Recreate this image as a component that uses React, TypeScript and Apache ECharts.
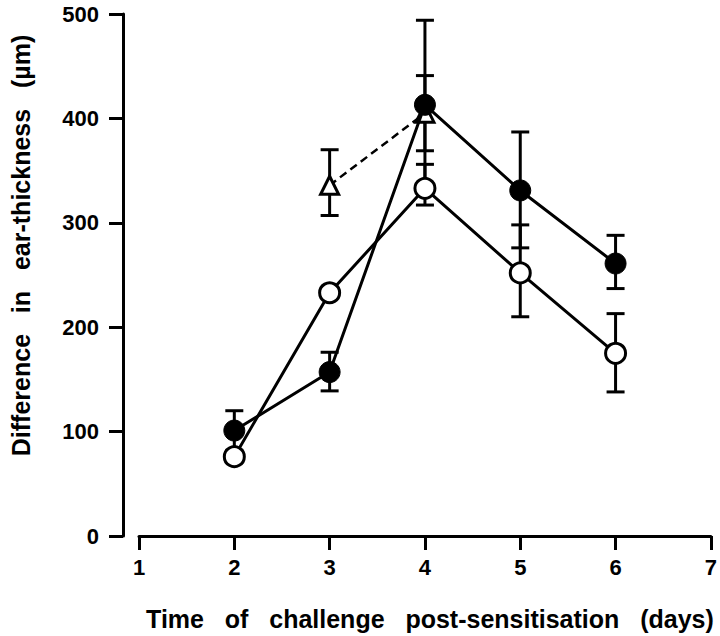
import React, { useEffect, useRef } from "react";
import * as echarts from "echarts";

const days = [2, 3, 4, 5, 6];
const filledMean = [101, 157, 413, 331, 261];
const filledHigh = [120, 176, 494, 387, 288];
const filledLow = [82, 139, 332, 276, 237];

const openMean = [76, 233, 333, 252, 175];
const openHigh = [76, 233, 356, 298, 213];
const openLow = [76, 233, 317, 210, 138];

const triDays = [3, 4];
const triMean = [336, 405];
const triHigh = [370, 441];
const triLow = [307, 369];

const xTicks = [1, 7];
const yTicks = [0, 500];

const FONT = "Liberation Sans, Arial, Helvetica, sans-serif";

function errData(xs: number[], lo: number[], hi: number[]) {
  return xs.map((x, i) => [x, lo[i], hi[i]]);
}

function errRender(params: any, api: any) {
  const x = api.value(0);
  const lo = api.value(1);
  const hi = api.value(2);
  if (hi === lo) return { type: "group", children: [] };
  const pHi = api.coord([x, hi]);
  const pLo = api.coord([x, lo]);
  const w = 9;
  const st = { stroke: "#000", lineWidth: 3 };
  return {
    type: "group",
    children: [
      { type: "line", shape: { x1: pHi[0], y1: pHi[1], x2: pLo[0], y2: pLo[1] }, style: st },
      { type: "line", shape: { x1: pHi[0] - w, y1: pHi[1], x2: pHi[0] + w, y2: pHi[1] }, style: st },
      { type: "line", shape: { x1: pLo[0] - w, y1: pLo[1], x2: pLo[0] + w, y2: pLo[1] }, style: st },
    ],
  };
}

export default function App() {
  const ref = useRef<HTMLDivElement>(null);
  useEffect(() => {
    if (!ref.current) return;
    document.body.style.margin = "0";
    document.body.style.overflow = "hidden";
    const chart = echarts.init(ref.current, undefined, { renderer: "svg" });
    chart.setOption({
      animation: false,
      backgroundColor: "#fff",
      grid: { left: 138, right: 8, top: 14, bottom: 99 },
      xAxis: {
        type: "value",
        min: xTicks[0],
        max: xTicks[1],
        interval: 1,
        name: "Time   of   challenge   post-sensitisation   (days)",
        nameLocation: "middle",
        nameGap: 70,
        nameTextStyle: {
          fontFamily: FONT,
          fontWeight: "bold",
          fontSize: 25,
          color: "#000",
          padding: [0, 0, 0, 10],
        },
        axisLine: { onZero: false, lineStyle: { color: "#000", width: 3 } },
        axisTick: { inside: false, length: 14, lineStyle: { color: "#000", width: 3 } },
        axisLabel: {
          margin: 20,
          fontFamily: FONT,
          fontWeight: "bold",
          fontSize: 22,
          color: "#000",
          showMinLabel: true,
          showMaxLabel: true,
        },
        splitLine: { show: false },
      },
      yAxis: {
        type: "value",
        min: yTicks[0],
        max: yTicks[1],
        interval: 100,
        offset: 16,
        name: "Difference   in   ear-thickness   (µm)",
        nameLocation: "middle",
        nameGap: 90,
        nameRotate: 90,
        nameTextStyle: {
          fontFamily: FONT,
          fontWeight: "bold",
          fontSize: 25,
          color: "#000",
          padding: [0, 0, 0, 59],
        },
        axisLine: { show: true, lineStyle: { color: "#000", width: 3 } },
        axisTick: { show: true, length: 14, lineStyle: { color: "#000", width: 3 } },
        axisLabel: { margin: 24, fontFamily: FONT, fontWeight: "bold", fontSize: 22, color: "#000" },
        splitLine: { show: false },
      },
      series: [
        {
          type: "custom",
          renderItem: errRender,
          data: errData(days, filledLow, filledHigh),
          z: 1,
          silent: true,
        },
        {
          type: "custom",
          renderItem: errRender,
          data: errData(days, openLow, openHigh),
          z: 1,
          silent: true,
        },
        {
          type: "custom",
          renderItem: errRender,
          data: errData(triDays, triLow, triHigh),
          z: 1,
          silent: true,
        },
        {
          type: "line",
          data: triDays.map((d, i) => [d, triMean[i]]),
          symbol: "triangle",
          symbolSize: 18,
          lineStyle: { color: "#000", width: 2.5, type: [8, 5] },
          itemStyle: { color: "#fff", borderColor: "#000", borderWidth: 3 },
          z: 2,
        },
        {
          type: "line",
          data: days.map((d, i) => [d, openMean[i]]),
          symbol: "circle",
          symbolSize: 20,
          showAllSymbol: true,
          lineStyle: { color: "#000", width: 3 },
          itemStyle: { color: "#fff", borderColor: "#000", borderWidth: 3 },
          z: 3,
        },
        {
          type: "line",
          data: days.map((d, i) => [d, filledMean[i]]),
          symbol: "circle",
          symbolSize: 21,
          showAllSymbol: true,
          lineStyle: { color: "#000", width: 3 },
          itemStyle: { color: "#000", borderColor: "#000", borderWidth: 1 },
          z: 4,
        },
      ],
    });
    return () => chart.dispose();
  }, []);
  return <div ref={ref} style={{ width: 720, height: 636 }} />;
}
